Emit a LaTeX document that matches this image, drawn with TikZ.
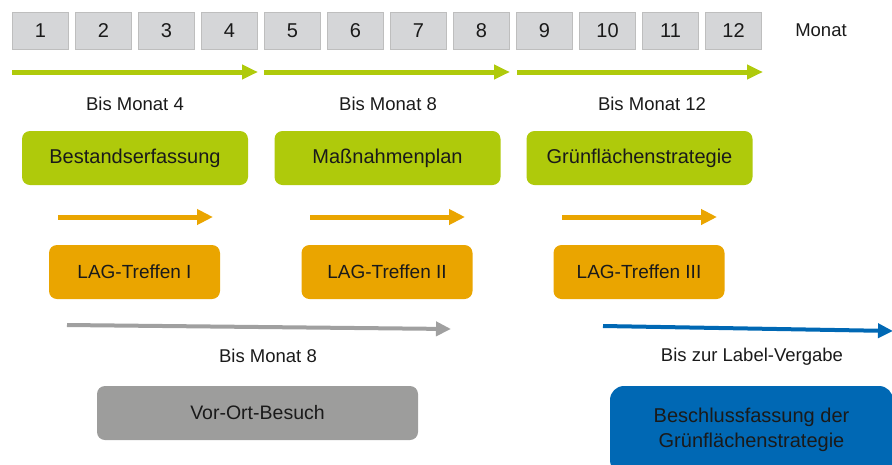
\documentclass[tikz,border=0pt]{standalone}
\usepackage{fontspec}
\setmainfont{Liberation Sans}
\usetikzlibrary{arrows.meta}
\definecolor{cgreen}{RGB}{175,202,11}
\definecolor{corange}{RGB}{234,165,0}
\definecolor{cgray}{RGB}{157,157,156}
\definecolor{cgrayarrow}{RGB}{160,160,160}
\definecolor{cblue}{RGB}{0,104,180}
\definecolor{cmonth}{RGB}{213,214,216}
\definecolor{cmonthborder}{RGB}{190,190,190}
\definecolor{ctext}{RGB}{26,26,26}
\tikzset{
  txt/.style={font=\fontsize{18.5}{22}\selectfont, text=ctext, inner sep=0pt},
  monthbox/.style={txt, font=\fontsize{20}{24}\selectfont, draw=cmonthborder, line width=1pt, fill=cmonth, minimum width=56pt, minimum height=37pt},
  phase/.style={txt, rounded corners=8pt, minimum height=54pt},
  greenbox/.style={phase, font=\fontsize{20}{24}\selectfont, fill=cgreen, minimum width=226pt},
  orangebox/.style={phase, font=\fontsize{19}{23}\selectfont, fill=corange, minimum width=171pt},
  graybox/.style={phase, font=\fontsize{19.5}{23}\selectfont, fill=cgray, minimum width=321pt},
  bluebox/.style={txt, rounded corners=14pt, fill=cblue, align=center, font=\fontsize{20}{24.5}\selectfont},
  greenarrow/.style={draw=cgreen, line width=5pt, -{Triangle[length=16pt,width=14pt]}},
  orangearrow/.style={draw=corange, line width=5pt, -{Triangle[length=16pt,width=15pt]}},
  grayarrow/.style={draw=cgrayarrow, line width=4pt, -{Triangle[length=15pt,width=14pt]}},
  bluearrow/.style={draw=cblue, line width=4pt, -{Triangle[length=15pt,width=14pt]}},
}
\begin{document}
\begin{tikzpicture}[x=1pt,y=-1pt]
\useasboundingbox (0,0) rectangle (892,464);
\clip (0,0) rectangle (892,464);
% month boxes
\foreach \i in {1,...,12} {
  \node[monthbox] (m\i) at ({40.5+63*(\i-1)},31) {\i};
}
\node[txt] (monat) at (821,30) {Monat};
% green arrows
\coordinate (g1s) at (12,72);  \coordinate (g1e) at (258,72);
\coordinate (g2s) at (264,72); \coordinate (g2e) at (510,72);
\coordinate (g3s) at (517,72); \coordinate (g3e) at (763,72);
\draw[greenarrow] (g1s) -- (g1e);
\draw[greenarrow] (g2s) -- (g2e);
\draw[greenarrow] (g3s) -- (g3e);
\node[txt] (l1) at (135,104) {Bis Monat 4};
\node[txt] (l2) at (388,104) {Bis Monat 8};
\node[txt] (l3) at (652,104) {Bis Monat 12};
% green boxes
\node[greenbox] (b1) at (135,158) {Bestandserfassung};
\node[greenbox] (b2) at (387.5,158) {Maßnahmenplan};
\node[greenbox] (b3) at (639.5,158) {Grünflächenstrategie};
% orange arrows
\coordinate (o1s) at (58,217);  \coordinate (o1e) at (213,217);
\coordinate (o2s) at (310,217); \coordinate (o2e) at (465,217);
\coordinate (o3s) at (562,217); \coordinate (o3e) at (717,217);
\draw[orangearrow] (o1s) -- (o1e);
\draw[orangearrow] (o2s) -- (o2e);
\draw[orangearrow] (o3s) -- (o3e);
% orange boxes
\node[orangebox] (t1) at (134.5,272) {LAG-Treffen I};
\node[orangebox] (t2) at (387,272) {LAG-Treffen II};
\node[orangebox] (t3) at (639,272) {LAG-Treffen III};
% gray arrow
\coordinate (ga) at (67,325); \coordinate (gb) at (451,329);
\draw[grayarrow] (ga) -- (gb);
\node[txt] (l4) at (268,356) {Bis Monat 8};
\node[graybox] (v) at (257.5,413) {Vor-Ort-Besuch};
% blue arrow
\coordinate (ba) at (603,326); \coordinate (bb) at (893,331);
\draw[bluearrow] (ba) -- (bb);
\node[txt] (l5) at (752,357) {Bis zur Label-Vergabe};
\node[bluebox, minimum width=283pt, minimum height=88pt] (bl) at (751.5,430) {Beschlussfassung der\\Grünflächenstrategie};
\end{tikzpicture}
\end{document}
